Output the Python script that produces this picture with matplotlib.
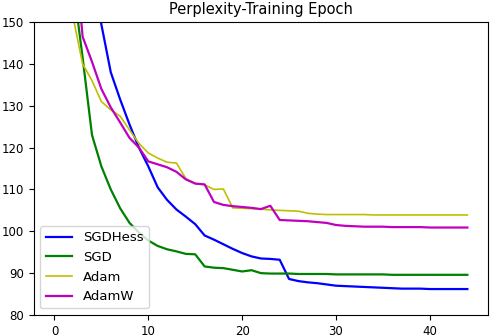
import numpy as np
import matplotlib
matplotlib.use("Agg")
import matplotlib.pyplot as plt

# Data (perplexity per training epoch)
epochs = np.arange(45)

sgdhess = [260, 215, 190, 175, 163, 149.4, 138, 131.5, 125.5, 120, 115.5,
           110.5, 107.5, 105.2, 103.5, 101.7, 99.0, 98.0, 96.9, 95.8, 94.8,
           94.0, 93.5, 93.4, 93.2, 88.6, 88.1, 87.8, 87.6, 87.3, 87.0,
           86.9, 86.8, 86.7, 86.6, 86.5, 86.4, 86.3, 86.3, 86.3, 86.2,
           86.2, 86.2, 86.2, 86.2]
sgd = [230, 185, 159, 141.5, 123, 115.5, 110, 105.5, 102, 99.7, 97.8,
       96.5, 95.7, 95.2, 94.6, 94.5, 91.6, 91.3, 91.2, 90.8, 90.4,
       90.7, 90.0, 89.9, 89.9, 89.9, 89.8, 89.8, 89.8, 89.8, 89.7,
       89.7, 89.7, 89.7, 89.7, 89.7, 89.6, 89.6, 89.6, 89.6, 89.6,
       89.6, 89.6, 89.6, 89.6]
adam = [220, 180, 151, 140, 136, 131, 129, 127.5, 124.2, 121, 118.7,
        117.5, 116.5, 116.3, 112.6, 111.4, 111.1, 110.0, 110.1, 105.6, 105.5,
        105.4, 105.3, 105.1, 105.0, 104.9, 104.8, 104.3, 104.1, 104.0, 104.0,
        104.0, 104.0, 104.0, 103.9, 103.9, 103.9, 103.9, 103.9, 103.9, 103.9,
        103.9, 103.9, 103.9, 103.9]
adamw = [260, 210, 172, 146.5, 140.5, 134, 129.6, 126, 122.3, 120, 116.7,
         116.0, 115.3, 114.2, 112.4, 111.4, 111.2, 107.0, 106.3, 106.0, 105.8,
         105.6, 105.3, 106.1, 102.7, 102.6, 102.5, 102.4, 102.2, 102.0, 101.5,
         101.3, 101.2, 101.1, 101.1, 101.1, 101.0, 101.0, 101.0, 101.0, 100.9,
         100.9, 100.9, 100.9, 100.9]

fig = plt.figure(figsize=(4.9, 3.36), dpi=100)
ax = fig.add_axes([0.069, 0.0625, 0.927, 0.872])

ax.plot(epochs, sgdhess, color='b', lw=1.6, label="SGDHess")
ax.plot(epochs, sgd, color='g', lw=1.6, label="SGD")
ax.plot(epochs, adam, color='y', lw=1.2, label="Adam")
ax.plot(epochs, adamw, color='m', lw=1.6, label="AdamW")

ax.set_ylim(80, 150)
ax.set_xlim(-2.2, 46.2)
ax.set_xticks([0, 10, 20, 30, 40])
ax.set_yticks([80, 90, 100, 110, 120, 130, 140, 150])
ax.tick_params(labelsize=8.5)
ax.set_title("Perplexity-Training Epoch", fontsize=10.5)
ax.legend(loc="lower left", fontsize=9.5)

fig.savefig("out.png", dpi=100)
